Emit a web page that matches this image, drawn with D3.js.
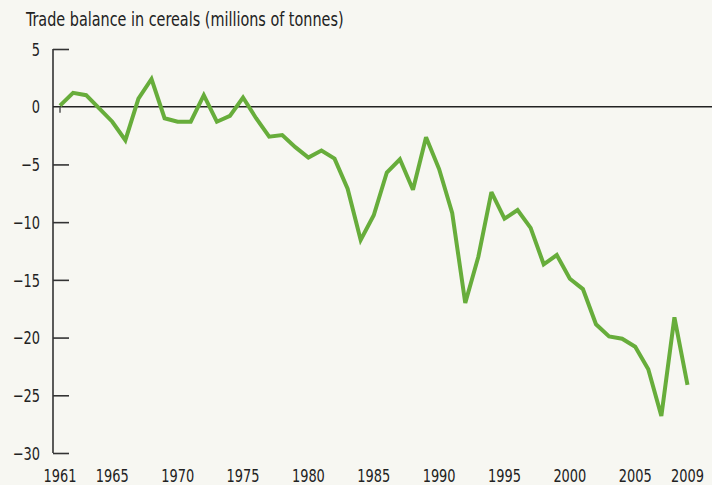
<!DOCTYPE html>
<html><head><meta charset="utf-8">
<script src="https://cdn.jsdelivr.net/npm/d3@7"></script>
<style>
html,body{margin:0;padding:0;background:#f7f7f2;}
svg{display:block;}
text{font-family:"DejaVu Sans Condensed","DejaVu Sans",sans-serif;font-stretch:condensed;fill:#222;}
</style></head>
<body>
<svg id="chart" width="712" height="485"></svg>
<script>
const years = d3.range(1961, 2010);
const balance = [0.1, 1.2, 1.0, -0.15, -1.3, -2.9, 0.7, 2.4, -1.0, -1.3,
  -1.3, 1.0, -1.3, -0.8, 0.8, -1.0, -2.6, -2.45, -3.5, -4.4,
  -3.8, -4.5, -7.1, -11.55, -9.4, -5.7, -4.55, -7.2, -2.65, -5.4,
  -9.2, -17.0, -13.0, -7.4, -9.7, -8.95, -10.5, -13.65, -12.85, -14.9,
  -15.8, -18.85, -19.9, -20.1, -20.8, -22.75, -26.8, -18.25, -24.1];
const yTicks = [5, 0, -5, -10, -15, -20, -25, -30];
const xTicks = [1961, 1965, 1970, 1975, 1980, 1985, 1990, 1995, 2000, 2005, 2009];
const title = "Trade balance in cereals (millions of tonnes)";

const svg = d3.select("#chart");
const x = d3.scaleLinear().domain([1961, 2009]).range([60, 687.5]);
const y = d3.scaleLinear().domain([-30, 5]).range([453, 49]);

svg.append("rect").attr("width", 712).attr("height", 485).attr("fill", "#f7f7f2");

const sx = 0.8;
svg.append("text").attr("transform", "translate(26,25.5) scale(0.8,1)")
  .attr("font-size", 20).text(title);

// y axis
const yAxis = svg.append("g").attr("transform", "translate(53,0)")
  .call(d3.axisRight(y).tickValues(yTicks).tickSize(16).tickFormat(""));
yAxis.select(".domain").attr("d", `M0,${y(5)}V${y(-30)}`).attr("stroke", "#333").attr("stroke-width", 1.6);
yAxis.selectAll(".tick line").attr("stroke", "#333").attr("stroke-width", 1.6);
yAxis.selectAll(".tick").filter(d => d === 0).select("line").remove();

svg.append("g").selectAll("text").data(yTicks).join("text")
  .attr("transform", d => `translate(40,${y(d)}) scale(${sx},1)`).attr("dy", "0.37em")
  .attr("text-anchor", "end").attr("font-size", 18)
  .text(d => d < 0 ? "\u2212" + Math.abs(d) : d);

// zero line
svg.append("line").attr("x1", 53).attr("x2", 712).attr("y1", y(0)).attr("y2", y(0))
  .attr("stroke", "#222").attr("stroke-width", 1.6);
// small tick at 1961
svg.append("line").attr("x1", x(1961)).attr("x2", x(1961)).attr("y1", y(0)).attr("y2", y(0) + 6)
  .attr("stroke", "#555").attr("stroke-width", 1.5);

// x labels
svg.append("g").selectAll("text").data(xTicks).join("text")
  .attr("transform", d => `translate(${x(d)},482) scale(${sx},1)`)
  .attr("text-anchor", "middle").attr("font-size", 18)
  .text(d => d);

// line
svg.append("path").datum(years.map((yr, i) => [yr, balance[i]]))
  .attr("fill", "none").attr("stroke", "#67ad3b").attr("stroke-width", 4)
  .attr("stroke-linejoin", "miter").attr("stroke-miterlimit", 3)
  .attr("d", d3.line().x(d => x(d[0])).y(d => y(d[1])));
</script>
</body></html>
